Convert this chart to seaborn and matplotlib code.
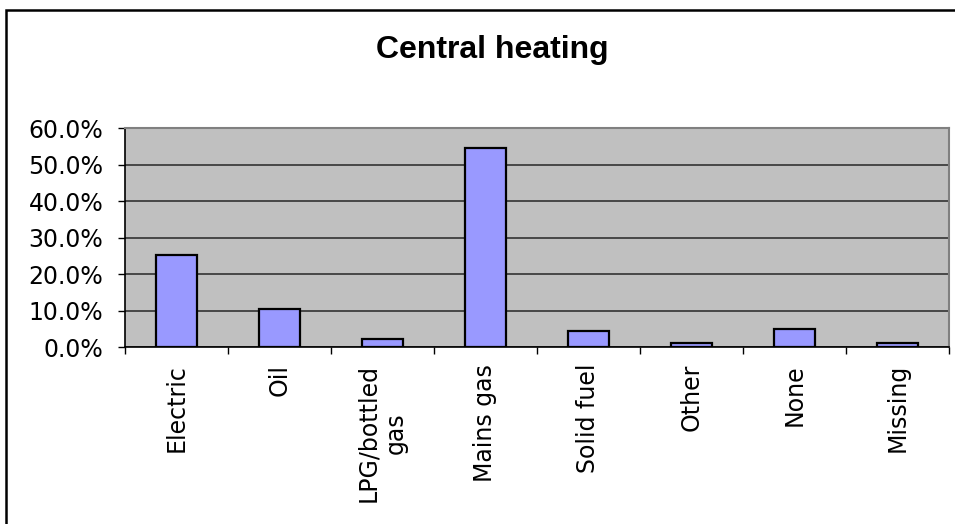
import matplotlib
matplotlib.use("Agg")
import matplotlib.pyplot as plt
import matplotlib.patches as mpatches
from matplotlib.ticker import FuncFormatter, FixedLocator
import seaborn as sns
import pandas as pd

categories = ["Electric", "Oil", "LPG/bottled\ngas", "Mains gas", "Solid fuel", "Other", "None", "Missing"]
values = [25.4, 10.6, 2.2, 54.6, 4.4, 1.1, 5.1, 1.1]
yticks = [0, 10, 20, 30, 40, 50, 60]
title = "Central heating"

sns.set_style("white")
plt.rcParams['font.family'] = ['DejaVu Sans']
plt.rcParams['text.color'] = 'black'
plt.rcParams['xtick.color'] = 'black'
plt.rcParams['ytick.color'] = 'black'

fig = plt.figure(figsize=(9.55, 5.24), dpi=100)
ax = fig.add_axes([0.1306, 0.3372, 0.9937 - 0.1306, 0.7552 - 0.3372])

df = pd.DataFrame({"cat": categories, "val": values})
sns.barplot(data=df, x="cat", y="val", ax=ax, color="#9999FF", saturation=1,
            width=0.4, edgecolor="black", linewidth=1.6, zorder=3)

ax.set_facecolor("#C0C0C0")
ax.set_xlim(-0.5, len(categories) - 0.5)
ax.set_ylim(0, 60)
ax.set_yticks(yticks)
ax.yaxis.set_major_formatter(FuncFormatter(lambda v, p: f"{v:.1f}%"))
ax.grid(axis="y", color="#333333", linewidth=1.2, zorder=1)
ax.set_axisbelow(True)
ax.set_xlabel("")
ax.set_ylabel("")

ax.tick_params(axis="y", which="major", direction="out", length=5, width=1, color="black",
               labelsize=17, labelcolor="black", pad=10.5, left=True)
ax.tick_params(axis="x", which="major", length=0, labelsize=17, labelcolor="black", pad=12)
ax.xaxis.set_minor_locator(FixedLocator([i - 0.5 for i in range(len(categories) + 1)]))
ax.tick_params(axis="x", which="minor", direction="out", length=5, width=1, color="black", bottom=True)
for lbl in ax.get_xticklabels():
    lbl.set_rotation(90)
    lbl.set_ha("center")
    lbl.set_va("top")
    lbl.set_multialignment("center")

for side in ["top", "right"]:
    ax.spines[side].set_color("#808080")
    ax.spines[side].set_linewidth(1.5)
for side in ["left", "bottom"]:
    ax.spines[side].set_color("black")
    ax.spines[side].set_linewidth(1.2)

fig.text(492 / 955, 1 - 58.3 / 524, title, ha="center", va="baseline", fontsize=23,
         fontweight="bold", family=["Liberation Sans", "DejaVu Sans"], color="black")

border = mpatches.Rectangle((6 / 955, -0.05), 1.0, 1.05 - 10 / 524,
                            transform=fig.transFigure, fill=False, edgecolor="black",
                            linewidth=1.8, clip_on=False)
fig.patches.append(border)

fig.savefig("out.png", dpi=100, facecolor="white")
